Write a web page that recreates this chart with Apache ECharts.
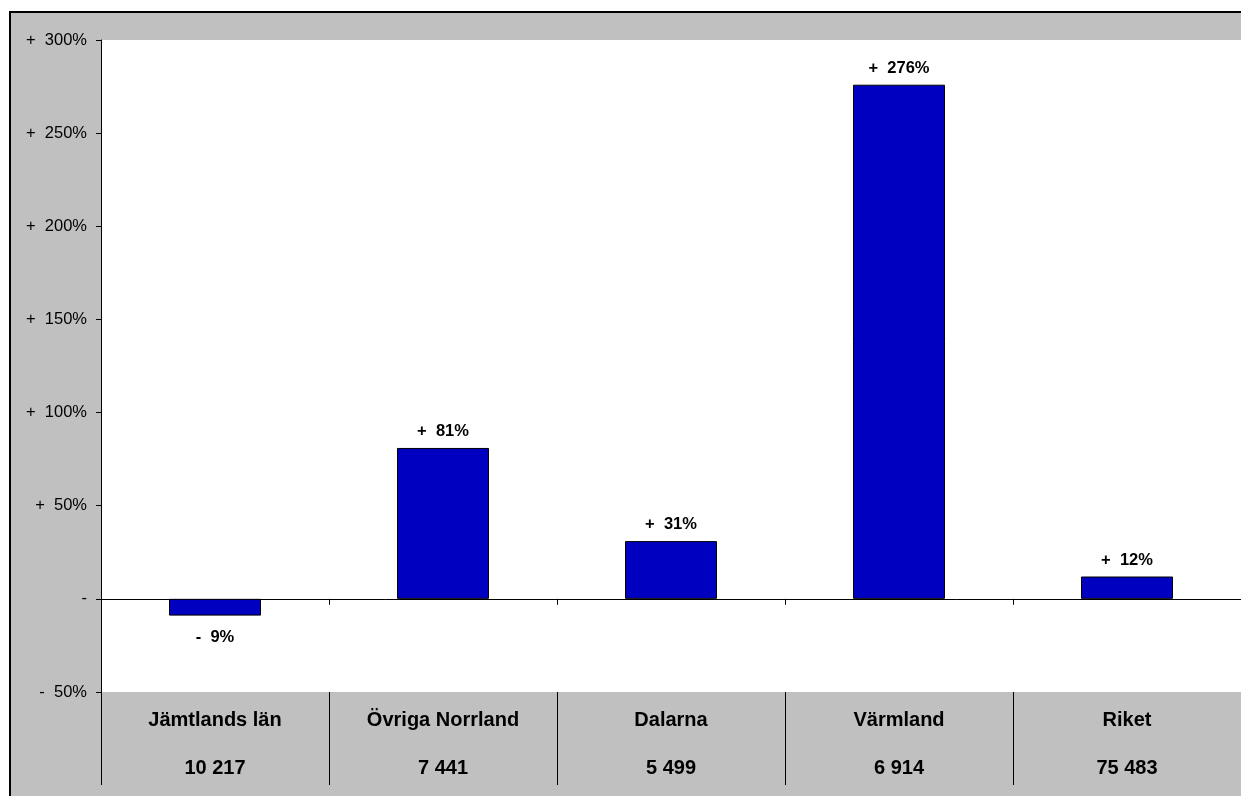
<!DOCTYPE html>
<html>
<head>
<meta charset="utf-8">
<style>
  html, body { margin: 0; padding: 0; background: #fff; }
  #main { width: 1241px; height: 796px; }
</style>
<script src="https://cdn.jsdelivr.net/npm/echarts@6/dist/echarts.min.js"></script>
</head>
<body>
<div id="main"></div>
<script>
// data
const categories = ['Jämtlands län', 'Övriga Norrland', 'Dalarna', 'Värmland', 'Riket'];
const counts = ['10 217', '7 441', '5 499', '6 914', '75 483'];
const changes = [-9, 81, 31, 276, 12];
const yTicks = [-50, 0, 50, 100, 150, 200, 250, 300];

const font = 'Liberation Sans, Arial, sans-serif';

// "+  50%", "-  50%", "-" for zero
function fmtPct(v) {
    if (v > 0) return '+  ' + v + '%';
    if (v < 0) return '-  ' + Math.abs(v) + '%';
    return '-';
}

var chart = echarts.init(document.getElementById('main'));

var option = {
    animation: false,
    backgroundColor: '#fff',
    graphic: [{
        type: 'rect',
        z: -1,
        shape: { x: 10, y: 12, width: 1300, height: 900 },
        style: { fill: '#c0c0c0', stroke: '#000', lineWidth: 2 }
    }],
    grid: {
        left: 101,
        top: 40,
        right: 0,
        bottom: 104,
        show: true,
        backgroundColor: '#fff',
        borderWidth: 0
    },
    yAxis: {
        type: 'value',
        min: yTicks[0],
        max: yTicks[yTicks.length - 1],
        interval: 50,
        splitLine: { show: false },
        axisLine: { show: true, lineStyle: { color: '#000', width: 1 } },
        axisTick: { show: true, length: 5, lineStyle: { color: '#000' } },
        axisLabel: {
            margin: 14,
            color: '#000',
            fontFamily: font,
            fontSize: 16.5,
            formatter: (v) => fmtPct(v)
        }
    },
    xAxis: [
        {
            // zero line with the short ticks
            type: 'category',
            data: categories,
            position: 'bottom',
            axisLine: { onZero: true, lineStyle: { color: '#000', width: 1 } },
            axisTick: { show: true, length: 6, lineStyle: { color: '#000' } },
            axisLabel: { show: false }
        },
        {
            // table below the plot: names, counts and separators
            type: 'category',
            data: categories,
            position: 'bottom',
            axisLine: { show: false, onZero: false },
            axisTick: { show: true, length: 93, lineStyle: { color: '#000' } },
            axisLabel: {
                margin: 4,
                color: '#000',
                formatter: (value, index) => '{n|' + value + '}\n{c|' + counts[index] + '}',
                rich: {
                    n: { fontFamily: font, fontSize: 20, fontWeight: 'bold', lineHeight: 48, color: '#000' },
                    c: { fontFamily: font, fontSize: 20, fontWeight: 'bold', lineHeight: 48, color: '#000' }
                }
            }
        }
    ],
    series: [{
        type: 'bar',
        xAxisIndex: 0,
        barWidth: 92,
        itemStyle: { color: '#0000c0', borderColor: '#000', borderWidth: 1 },
        data: changes.map((v) => ({
            value: v,
            label: {
                show: true,
                position: v < 0 ? 'bottom' : 'top',
                distance: v < 0 ? 13 : 8,
                color: '#000',
                fontFamily: font,
                fontSize: 16.5,
                fontWeight: 'bold',
                formatter: () => fmtPct(v)
            }
        }))
    }]
};

chart.setOption(option);
</script>
</body>
</html>
